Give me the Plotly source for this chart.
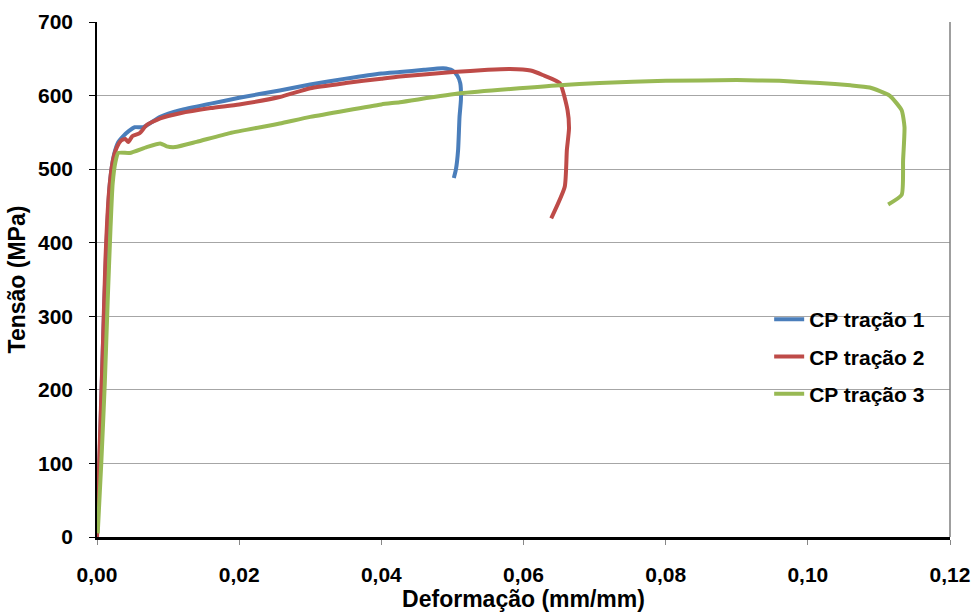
import plotly.graph_objects as go

# ---- data ----
strain_cp1 = [0, 0.0004, 0.0008, 0.0013, 0.0018, 0.0024, 0.0030, 0.0037, 0.0045, 0.0053, 0.0065,
              0.0089, 0.0117, 0.016, 0.020, 0.0257, 0.030, 0.035, 0.040, 0.0426, 0.046, 0.0487,
              0.0500, 0.0507, 0.0511, 0.0512, 0.0510, 0.0508, 0.0505, 0.0502]
stress_cp1 = [0, 120, 250, 390, 480, 520, 537, 545, 552, 557, 557,
              571, 580, 589, 597, 607, 615, 623, 630, 632, 635, 637,
              634, 627, 617, 595, 571, 526, 500, 488]

strain_cp2 = [0, 0.0003, 0.0008, 0.0012, 0.0017, 0.0022, 0.0028, 0.0034, 0.0040, 0.0044, 0.0050,
              0.0060, 0.0070, 0.0089, 0.0117, 0.016, 0.020, 0.0257, 0.030, 0.035, 0.040, 0.0426,
              0.0501, 0.055, 0.0581, 0.061, 0.0627, 0.0651, 0.0662, 0.0664, 0.0661, 0.0658, 0.0639]
stress_cp2 = [0, 100, 250, 380, 470, 510, 530, 539, 541, 537, 545,
              549, 560, 569, 576, 583, 588, 598, 610, 617, 623, 626,
              632, 635, 636, 634, 628, 617, 580, 555, 526, 476, 433]

strain_cp3 = [0.0001, 0.0006, 0.0011, 0.0015, 0.0019, 0.0022, 0.0026, 0.0030, 0.0046, 0.0070,
              0.0089, 0.0098, 0.0110, 0.014, 0.0187, 0.0257, 0.030, 0.040, 0.0426, 0.0511,
              0.0651, 0.0707, 0.080, 0.090, 0.0960, 0.1017, 0.1060, 0.1087, 0.1115, 0.1132,
              0.1136, 0.1134, 0.1132, 0.1113]
stress_cp3 = [5, 100, 210, 320, 420, 480, 510, 522, 522, 530,
              535, 531, 530, 537, 549, 562, 571, 588, 591, 603,
              614, 617, 620, 621, 620, 617, 614, 611, 600, 580,
              557, 512, 465, 452]

series_names = ["CP tração 1", "CP tração 2", "CP tração 3"]
series_colors = ["#4A7EBB", "#BE4B48", "#98B954"]

x_ticks = [0, 0.02, 0.04, 0.06, 0.08, 0.10, 0.12]
y_ticks = [0, 100, 200, 300, 400, 500, 600, 700]

FONT = "Liberation Sans, Arial, sans-serif"

fig = go.Figure()
for i, (xs, ys) in enumerate([(strain_cp1, stress_cp1), (strain_cp2, stress_cp2), (strain_cp3, stress_cp3)]):
    fig.add_trace(go.Scatter(
        x=xs, y=ys, mode="lines", name=series_names[i],
        legendgroup=f"g{i}",
        line=dict(color=series_colors[i], width=4, shape="spline", smoothing=0.5),
    ))

fig.update_layout(
    width=977, height=614,
    margin=dict(l=97, r=27, t=22, b=77, autoexpand=False),
    paper_bgcolor="white", plot_bgcolor="white",
    separators=",.",
    font=dict(family=FONT, size=21, color="black"),
    showlegend=True,
    legend=dict(
        x=0.788, y=0.462, xanchor="left", yanchor="top",
        font=dict(family=FONT, size=21, color="black", weight="bold"),
        bgcolor="rgba(0,0,0,0)", tracegroupgap=7,
        traceorder="grouped",
    ),
    xaxis=dict(
        range=[0, 0.12], tickvals=x_ticks, tickformat=".2f",
        showgrid=False, zeroline=False, automargin=False,
        showline=True, linecolor="black", linewidth=2.5,
        ticks="outside", ticklen=5, tickcolor="#888888", tickwidth=1,
        tickfont=dict(family=FONT, size=21, color="black", weight="bold"),
        ticklabelstandoff=12,
        title=dict(text="Deformação (mm/mm)", standoff=0,
                   font=dict(family=FONT, size=23, color="black", weight="bold")),
    ),
    yaxis=dict(
        range=[0, 700], tickvals=y_ticks,
        showgrid=True, gridcolor="#A6A6A6", gridwidth=1, zeroline=False, automargin=False,
        showline=True, linecolor="black", linewidth=1.5,
        ticks="outside", ticklen=6, tickcolor="black", tickwidth=1,
        tickfont=dict(family=FONT, size=21, color="black", weight="bold"),
        ticklabelstandoff=12,
        title=dict(text="Tensão (MPa)", standoff=6,
                   font=dict(family=FONT, size=23, color="black", weight="bold")),
    ),
    shapes=[dict(type="line", xref="paper", yref="paper", x0=1, x1=1, y0=0, y1=1,
                 line=dict(color="#7F7F7F", width=1.5))],
)

fig.write_html("out.html")
